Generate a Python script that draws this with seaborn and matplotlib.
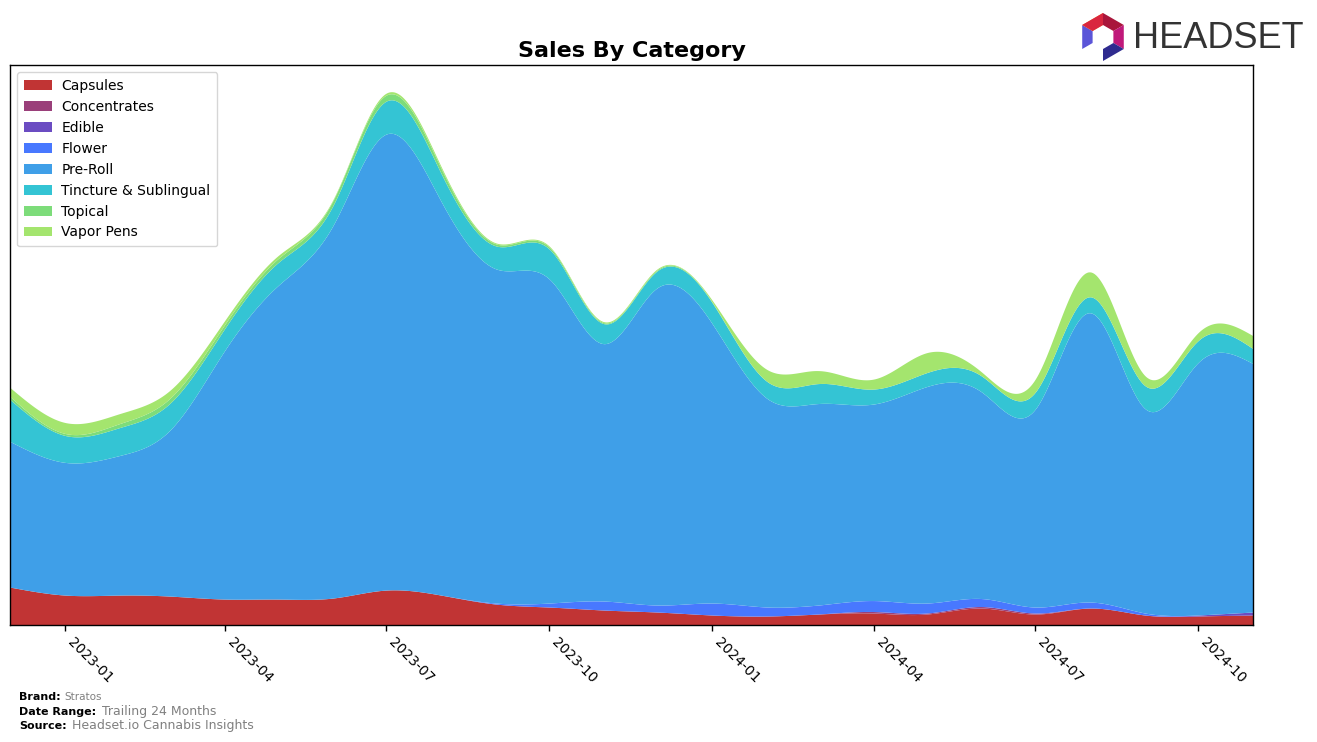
import numpy as np
import pandas as pd
import matplotlib
matplotlib.use("Agg")
import matplotlib.pyplot as plt
import matplotlib.dates as mdates
from matplotlib.patches import Polygon
import seaborn as sns

# ---------------- data (monthly, arbitrary sales units) ----------------
months = pd.date_range("2022-12-01", "2024-11-01", freq="MS")
categories = ["Capsules", "Concentrates", "Edible", "Flower", "Pre-Roll",
              "Tincture & Sublingual", "Topical", "Vapor Pens"]
capsules = [38, 30, 30, 29, 26, 26, 27, 35, 30, 21, 18, 15,
            13, 10, 9, 11, 12, 11, 17, 11, 17, 10, 9, 10]
concentrates = [0, 0, 0, 0, 0, 0, 0, 0, 0, 0, 0, 0,
                0, 0, 0, 0, 1.5, 1, 1.5, 1, 0, 0, 0, 0]
edible = [0, 0, 0, 0, 0, 0, 0, 0, 0, 0, 0, 0,
          0, 0, 0, 0, 0, 0, 0, 0, 0, 0, 1, 3]
flower = [0, 0, 0, 0, 0, 0, 0, 0, 0, 1, 4, 9,
          7, 12, 9, 9, 11, 10, 8, 6, 6, 2, 0, 0]
pre_roll = [146, 133, 140, 166, 249, 314, 373, 457, 395, 335, 325, 258,
            318, 280, 209, 202, 197, 217, 207, 198, 290, 205, 253, 249]
tincture = [42, 27, 28, 27, 22, 23, 20, 33, 28, 23, 30, 20,
            17, 21, 17, 20, 15, 14, 16, 17, 16, 23, 22, 15]
topical = [3, 2, 4, 5, 4, 4, 5, 6, 5, 2, 2, 1,
           1, 0.5, 0, 0, 0, 0, 0, 0, 0, 0, 0, 0]
vapor_pens = [9, 11, 10, 8, 4, 3, 1, 2, 2, 1, 1, 1,
              1, 2, 12, 13, 10, 20, 4, 13, 25, 10, 8, 13]
colors = ["#c13434", "#9a3f7a", "#6b4cc2", "#4878ff", "#3f9fe8",
          "#34c4d4", "#7ddc7a", "#a4e56e"]
tick_dates = ["2023-01", "2023-04", "2023-07", "2023-10",
              "2024-01", "2024-04", "2024-07", "2024-10"]

series = [capsules, concentrates, edible, flower, pre_roll, tincture, topical, vapor_pens]


def natural_spline(x, y, xs):
    x = np.asarray(x, float)
    y = np.asarray(y, float)
    n = len(x)
    h = np.diff(x)
    A = np.zeros((n, n))
    r = np.zeros(n)
    A[0, 0] = A[-1, -1] = 1.0
    for i in range(1, n - 1):
        A[i, i - 1] = h[i - 1]
        A[i, i] = 2 * (h[i - 1] + h[i])
        A[i, i + 1] = h[i]
        r[i] = 3 * ((y[i + 1] - y[i]) / h[i] - (y[i] - y[i - 1]) / h[i - 1])
    c = np.linalg.solve(A, r)
    b = (y[1:] - y[:-1]) / h - h * (2 * c[:-1] + c[1:]) / 3
    d = (c[1:] - c[:-1]) / (3 * h)
    idx = np.clip(np.searchsorted(x, xs) - 1, 0, n - 2)
    dx = xs - x[idx]
    return y[idx] + b[idx] * dx + c[idx] * dx ** 2 + d[idx] * dx ** 3


# ---------------- style ----------------
sns.set_theme(style="white")
plt.rcParams["font.family"] = ["DejaVu Sans"]
plt.rcParams["axes.edgecolor"] = "black"
plt.rcParams["axes.linewidth"] = 1.0
plt.rcParams["text.color"] = "black"
plt.rcParams["xtick.color"] = "black"
plt.rcParams["axes.labelcolor"] = "black"
plt.rcParams["axes.titlecolor"] = "black"

fig = plt.figure(figsize=(13.17, 7.42), dpi=100)
ax = fig.add_axes([10 / 1317, 1 - 625 / 742, (1253 - 10) / 1317, (625 - 65) / 742])

xnum = mdates.date2num(months.to_pydatetime())
xs = np.linspace(xnum[0], xnum[-1], 800)
smooth = [np.clip(natural_spline(xnum, s, xs), 0, None) for s in series]

ax.stackplot(xs, *smooth, colors=colors, labels=categories, linewidth=0)

total = np.sum(smooth, axis=0)
ax.set_xlim(xnum[0], xnum[-1])
ax.set_ylim(0, total.max() * 1.05)
ax.set_yticks([])

ticks = mdates.date2num(pd.to_datetime(tick_dates).to_pydatetime())
ax.set_xticks(ticks)
ax.set_xticklabels(tick_dates, rotation=-45, ha="left", fontsize=10, color="black")
ax.tick_params(axis="x", length=4, width=1, color="black", bottom=True, pad=3)
for sp in ax.spines.values():
    sp.set_visible(True)
    sp.set_color("black")

ax.set_title("Sales By Category", fontsize=16, fontweight="bold", pad=6, color="black")

leg = ax.legend(loc="upper left", fontsize=10, frameon=True, handlelength=2.0,
                borderpad=0.5, labelspacing=0.5, handletextpad=0.7)
leg.get_frame().set_edgecolor("#cccccc")
for t in leg.get_texts():
    t.set_color("black")

# ---------------- footer ----------------
def px(x, y):
    return x / 1317, 1 - y / 742

fig.text(*px(19, 697), "Brand:", fontsize=8, fontweight="bold", va="center")
fig.text(*px(64, 697), "Stratos", fontsize=7.5, color="gray", va="center")
fig.text(*px(19, 712), "Date Range:", fontsize=8, fontweight="bold", va="center")
fig.text(*px(102, 712), "Trailing 24 Months", fontsize=9, color="gray", va="center")
fig.text(*px(19, 726), "Source:", fontsize=8, fontweight="bold", va="center")
fig.text(*px(72, 726), "Headset.io Cannabis Insights", fontsize=9, color="gray", va="center")

# ---------------- logo ----------------
fig.text(*px(1133, 38), "HEADSET", fontsize=26, color="#333333", va="center", ha="left",
         family=["Liberation Sans", "DejaVu Sans"])
cx, cy, R, r_in = 1103, 37, 24, 12
ang = np.deg2rad([90, 30, -30, -90, -150, 150, 90])
seg_colors = ["#a9163b", "#c0197a", "#2f2b8f", None, "#5b55d8", "#f47b20"]
for k in range(6):
    if seg_colors[k] is None:
        continue
    a0, a1 = ang[k], ang[k + 1]
    pts = [(cx + R * np.cos(a0), cy - R * np.sin(a0)),
           (cx + R * np.cos(a1), cy - R * np.sin(a1)),
           (cx + r_in * np.cos(a1), cy - r_in * np.sin(a1)),
           (cx + r_in * np.cos(a0), cy - r_in * np.sin(a0))]
    fig.add_artist(Polygon([px(*p) for p in pts], closed=True, transform=fig.transFigure,
                           facecolor=seg_colors[k], edgecolor="none"))
# top-left red segment
pts = [(cx + R * np.cos(ang[5]), cy - R * np.sin(ang[5])),
       (cx + R * np.cos(ang[0]), cy - R * np.sin(ang[0])),
       (cx + r_in * np.cos(ang[0]), cy - r_in * np.sin(ang[0])),
       (cx + r_in * np.cos(ang[5]), cy - r_in * np.sin(ang[5]))]
fig.add_artist(Polygon([px(*p) for p in pts], closed=True, transform=fig.transFigure,
                       facecolor="#d9263f", edgecolor="none"))

fig.savefig("out.png", dpi=100)
